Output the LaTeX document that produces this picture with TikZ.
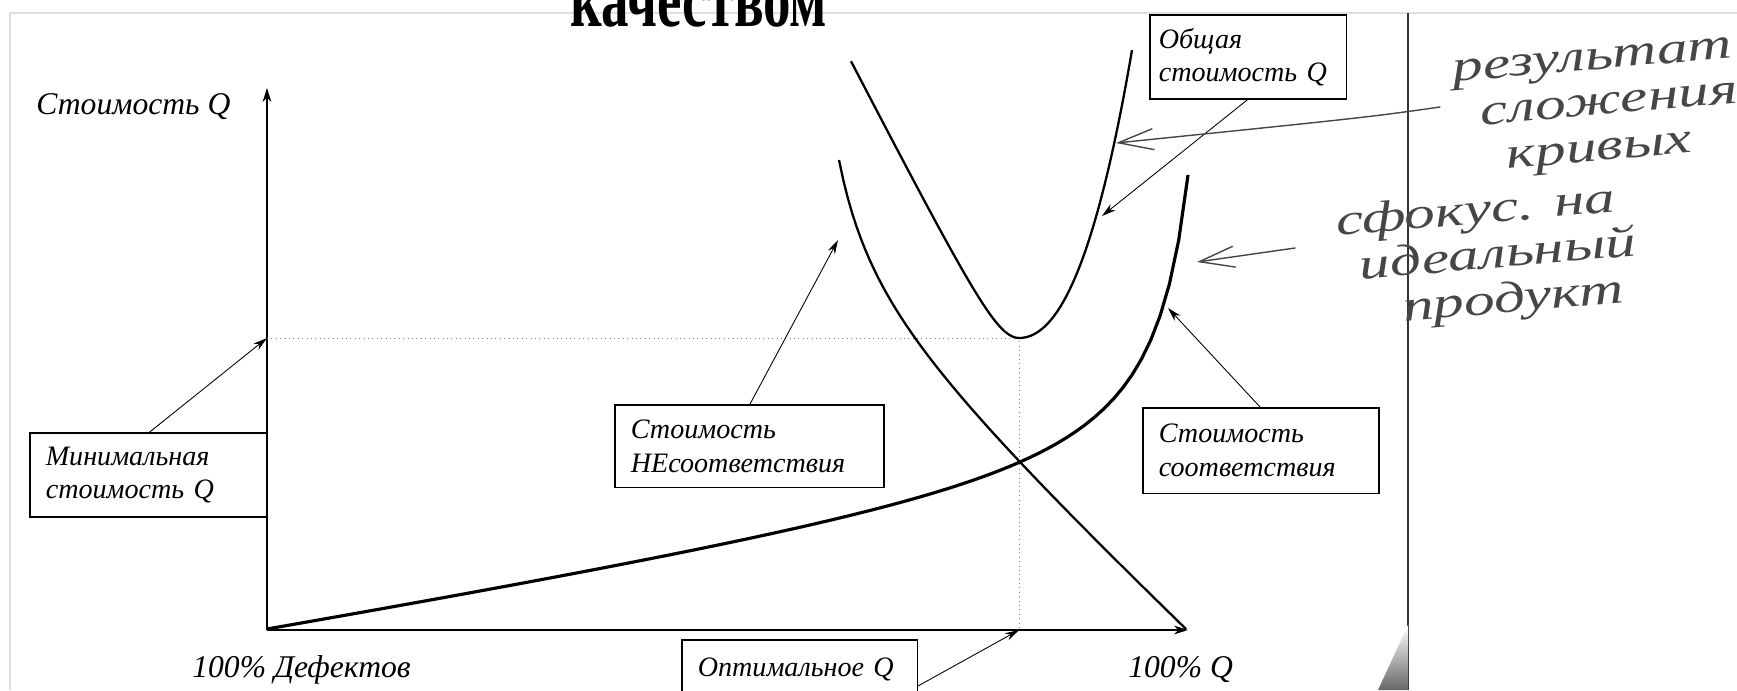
\documentclass[tikz,border=0pt]{standalone}
\usepackage{fontspec}
\setmainfont{Liberation Serif}
\usetikzlibrary{arrows.meta}
\usetikzlibrary{calc}

\newcommand{\boxfont}{\itshape\fontsize{16}{19}\selectfont}
\newcommand{\axisfont}{\itshape\fontsize{18}{21}\selectfont}
\newcommand{\titlefont}{\bfseries\fontsize{46}{50}\selectfont}
\newcommand{\notefont}{\itshape\fontsize{25}{24}\selectfont}
\newcommand{\pencil}[1]{\scalebox{1.4}[1]{\renewcommand{\arraystretch}{1.08}\begin{tabular}[t]{@{}l@{}}#1\end{tabular}}}

\begin{document}
\begin{tikzpicture}[x=0.02cm, y=-0.02cm]

% Define styles
\tikzset{
    curve/.style={line width=1.3pt, line join=round},
    thickcurve/.style={line width=1.8pt},
    axis/.style={line width=0.8pt, -{Stealth[length=8pt, width=5pt]}},
    pointer/.style={line width=0.5pt, -{Stealth[length=8pt, width=4.5pt]}},
    box/.style={draw, line width=0.6pt, anchor=north west, align=left, inner xsep=9pt, inner ysep=0pt, outer sep=0pt, font=\boxfont},
    guide/.style={gray, dotted, line width=0.5pt},
    note/.style={gray!55!black, font=\notefont, anchor=base west, rotate=5, inner sep=0pt},
    scribble/.style={gray!55!black, line width=0.8pt, line cap=round, -{Straight Barb[length=20pt, width=12pt]}}
}

\useasboundingbox (0,0) rectangle (1737,690);
\clip (0,0) rectangle (1737,690);

% slide frame
\draw[gray!25, line width=0.6pt] (10,690) -- (10,13) -- (1737,13);
\draw[black!80, line width=0.7pt] (1408,13) -- (1408,690);
\shade[top color=white, bottom color=gray!80!black] (1408,625) -- (1408,690) -- (1378,690) -- cycle;

% title, cut at the top edge
\node[font=\titlefont, anchor=base, inner sep=0pt] (title) at (699,26) {\scalebox{0.68}[1]{качеством}};

% axes
\coordinate (O) at (267,630);
\coordinate (Xend) at (1188,630);
\coordinate (Ytop) at (267,88);
\draw[axis] (O) -- (Ytop);
\draw[axis] (O) -- (Xend);

% optimum point
\coordinate (opt) at (1019,338);
\coordinate (minQ) at (267,338);
\coordinate (optQ) at (1019,630);
\draw[guide] (minQ) -- (opt) -- (optQ);

% cost of non-conformance
\draw[curve] plot[domain=839:1186, samples=80] (\x, {629 - (0.9316*(1186-\x) + 6323/(\x-800) - 16.38)});
% cost of conformance
\draw[thickcurve] plot[domain=267:1188, samples=100] (\x, {629 - (0.1621*(\x-267) + 11729/(1225-\x) - 12.24)});
% total cost
\draw[curve] plot[domain=851:1019, samples=50] (\x, {338 - (10*sqrt((0.195*(\x-1019))^2 + 30.8) - 55.5)})
    -- plot[domain=1019:1132, samples=50] (\x, {338 - (1.59*((\x-1019)/10)^2 + 0.0588*((\x-1019)/10)^3)});

% axis labels
\node[font=\axisfont, anchor=base west, inner sep=0pt] (ylabel) at (36,114) {Стоимость Q};
\node[font=\axisfont, anchor=base west, inner sep=0pt] (xstart) at (192,677) {100\% Дефектов};
\node[font=\axisfont, anchor=base west, inner sep=0pt] (xend) at (1128,677) {100\% Q};

% boxes
\node[box, text width=116.9pt, minimum height=47.8pt] (minbox) at (30,433) {Минимальная\\стоимость Q};
\node[box, text width=135.1pt, minimum height=47.2pt] (nebox) at (615,405) {Стоимость\\НЕсоответствия};
\node[box, text width=116.3pt, minimum height=48.4pt] (confbox) at (1143,408) {Стоимость\\соответствия};
\node[box, text width=102pt, inner xsep=5pt, minimum height=47.8pt] (totalbox) at (1150,15) {Общая\\стоимость Q};
\node[box, text width=116.3pt, minimum height=34pt] (optbox) at (682,640) {Оптимальное Q};

% pointers
\coordinate (neHead) at (838,240);
\coordinate (totalHead) at (1102,216);
\coordinate (confHead) at (1168,308);
\draw[pointer] (minbox.north) -- (minQ);
\draw[pointer] (nebox.north) -- (neHead);
\draw[pointer] (confbox.north) -- (confHead);
\draw[pointer] (totalbox.south) -- (totalHead);
\draw[pointer] ($(optbox.north east)+(0,46)$) -- (optQ);

% pencil notes
\node[note] (noteSum) at (1453,82) {\pencil{результат\\\hspace*{10pt}сложения\\\hspace*{19pt}кривых}};
\node[note] (noteIdeal) at (1337,236) {\pencil{сфокус. на\\\hspace*{8pt}идеальный\\\hspace*{24pt}продукт}};
\coordinate (sumTail) at (1440,107);
\coordinate (sumHead) at (1116,143);
\coordinate (idealTail) at (1295,248);
\coordinate (idealHead) at (1197,262);
\draw[scribble] (sumTail) .. controls (1370,117) .. (sumHead);
\draw[scribble] (idealTail) -- (idealHead);

\end{tikzpicture}
\end{document}
